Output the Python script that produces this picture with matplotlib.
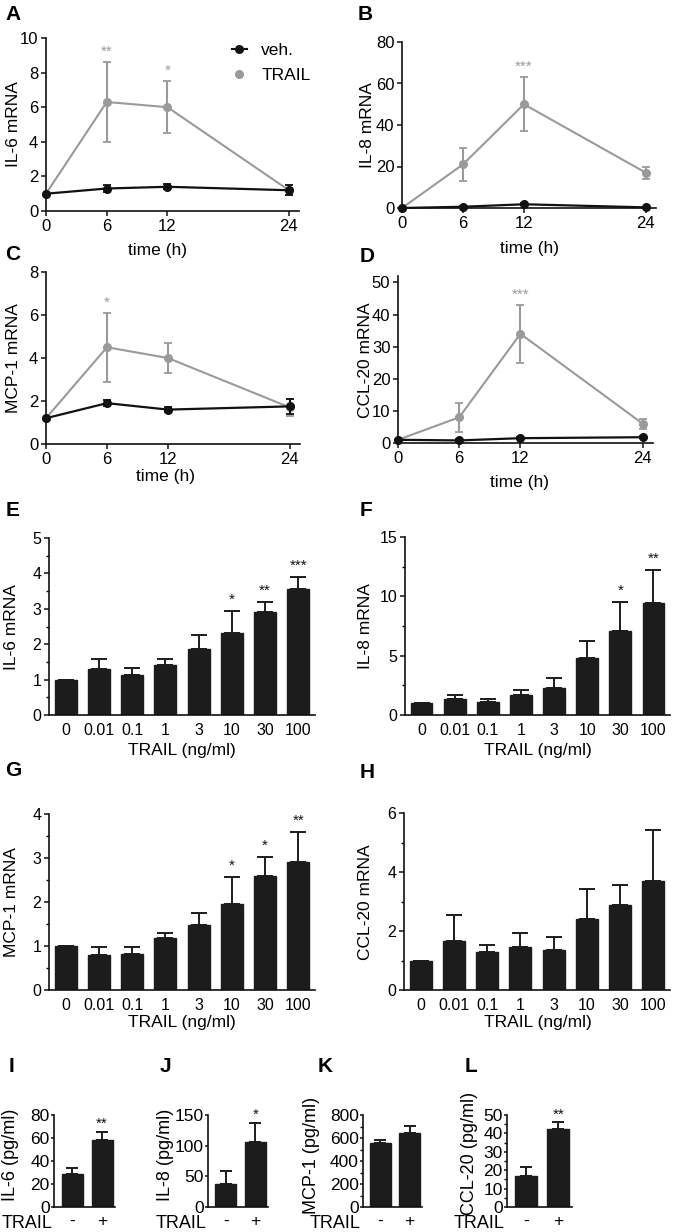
import matplotlib
matplotlib.use("Agg")
import matplotlib.pyplot as plt
import numpy as np
from matplotlib.ticker import MultipleLocator
from matplotlib.lines import Line2D

plt.rcParams['font.family'] = ['Liberation Sans', 'DejaVu Sans']

# ---------------- data ----------------
time_h = [0, 6, 12, 24]
# A IL-6 mRNA
A_veh = [1.0, 1.3, 1.4, 1.2]; A_veh_err = [0.0, 0.2, 0.15, 0.3]
A_trail = [1.0, 6.3, 6.0, 1.2]; A_trail_err = [0.0, 2.3, 1.5, 0.3]
A_stars = ['', '**', '*', '']
# B IL-8 mRNA
B_veh = [0.0, 0.6, 1.8, 0.3]; B_veh_err = [0.0, 0.3, 0.4, 0.3]
B_trail = [0.0, 21.0, 50.0, 17.0]; B_trail_err = [0.0, 8.0, 13.0, 3.0]
B_stars = ['', '', '***', '']
# C MCP-1 mRNA
C_veh = [1.2, 1.9, 1.6, 1.75]; C_veh_err = [0.0, 0.15, 0.12, 0.35]
C_trail = [1.2, 4.5, 4.0, 1.7]; C_trail_err = [0.0, 1.6, 0.7, 0.4]
C_stars = ['', '*', '', '']
# D CCL-20 mRNA
D_veh = [1.0, 0.8, 1.5, 1.8]; D_veh_err = [0.0, 0.3, 0.3, 0.3]
D_trail = [1.0, 8.0, 34.0, 6.0]; D_trail_err = [0.0, 4.5, 9.0, 1.5]
D_stars = ['', '', '***', '']

doses = ['0', '0.01', '0.1', '1', '3', '10', '30', '100']
E_val = [1.0, 1.3, 1.13, 1.41, 1.86, 2.32, 2.91, 3.56]
E_err = [0.0, 0.28, 0.2, 0.17, 0.4, 0.62, 0.28, 0.34]
E_stars = ['', '', '', '', '', '*', '**', '***']
F_val = [1.0, 1.33, 1.1, 1.7, 2.3, 4.8, 7.1, 9.45]
F_err = [0.0, 0.37, 0.25, 0.4, 0.8, 1.45, 2.4, 2.75]
F_stars = ['', '', '', '', '', '', '*', '**']
G_val = [1.0, 0.8, 0.81, 1.18, 1.48, 1.95, 2.6, 2.9]
G_err = [0.0, 0.18, 0.17, 0.12, 0.27, 0.62, 0.42, 0.7]
G_stars = ['', '', '', '', '', '*', '*', '**']
H_val = [1.0, 1.66, 1.29, 1.46, 1.36, 2.4, 2.88, 3.69]
H_err = [0.0, 0.88, 0.23, 0.47, 0.44, 1.02, 0.68, 1.73]
H_stars = ['', '', '', '', '', '', '', '']

trail_cats = ['-', '+']
I_val = [29.0, 58.5]; I_err = [4.5, 7.0]; I_stars = ['', '**']
J_val = [37.0, 106.0]; J_err = [22.0, 31.0]; J_stars = ['', '*']
K_val = [557.0, 640.0]; K_err = [28.0, 62.0]; K_stars = ['', '']
L_val = [17.0, 42.3]; L_err = [4.8, 3.7]; L_stars = ['', '**']

# ---------------- figure ----------------
W, H = 675, 1232
fig = plt.figure(figsize=(W / 100, H / 100), dpi=100)

GRAY = '#9a9a9a'
BLACK = '#111111'
BAR = '#1c1c1c'


def add_ax(l, r, top, bottom):
    return fig.add_axes([l / W, 1 - bottom / H, (r - l) / W, (bottom - top) / H])


def style(ax, fs, length=3.5, pad=2):
    for s in ['top', 'right']:
        ax.spines[s].set_visible(False)
    for s in ['left', 'bottom']:
        ax.spines[s].set_linewidth(1.2)
        ax.spines[s].set_color(BLACK)
    ax.tick_params(axis='both', direction='out', length=length, width=1.1,
                   labelsize=fs, pad=pad, color=BLACK)
    ax.tick_params(axis='y', which='minor', direction='out', length=2.5, width=1.0)


def ftext(x, y, s, **kw):
    fig.text(x / W, 1 - y / H, s, **kw)


def time_panel(ax, veh, veh_err, trail, trail_err, stars, ylim, yticks):
    ax.errorbar(time_h, trail, yerr=trail_err, color=GRAY, ecolor=GRAY, lw=1.5,
                elinewidth=1.5, capsize=3, capthick=1.3, marker='o', ms=5.5,
                mec=GRAY, mfc=GRAY, zorder=3, clip_on=False)
    ax.errorbar(time_h, veh, yerr=veh_err, color=BLACK, ecolor=BLACK, lw=1.6,
                elinewidth=1.5, capsize=3, capthick=1.3, marker='o', ms=5.5,
                mec=BLACK, mfc=BLACK, zorder=4, clip_on=False)
    for x, m, e, s in zip(time_h, trail, trail_err, stars):
        if s:
            ax.annotate(s, (x, m + e), xytext=(0, 6), textcoords='offset pixels',
                        ha='center', va='baseline', fontsize=11, color=GRAY)
    ax.set_xlim(0, 25)
    ax.set_ylim(*ylim)
    ax.set_xticks([0, 6, 12, 24])
    ax.set_yticks(yticks)
    style(ax, 12)


def dose_panel(ax, vals, errs, stars, ylim, yticks, minor):
    x = np.arange(len(doses))
    ax.bar(x, vals, width=0.66, color=BAR, edgecolor=BAR, zorder=2)
    ax.errorbar(x, vals, yerr=[np.zeros(len(vals)), errs], fmt='none', ecolor=BAR,
                elinewidth=1.4, capsize=5.5, capthick=1.4, zorder=3)
    for xi, m, e, s in zip(x, vals, errs, stars):
        if s:
            ax.annotate(s, (xi, m + e), xytext=(0, 7), textcoords='offset pixels',
                        ha='center', va='baseline', fontsize=11, color=BLACK)
    ax.set_xlim(-0.5, 7.5)
    ax.set_ylim(*ylim)
    ax.set_xticks(x)
    ax.set_xticklabels(doses)
    ax.set_yticks(yticks)
    ax.yaxis.set_minor_locator(MultipleLocator(minor))
    style(ax, 11.5)
    ax.tick_params(axis='x', length=0, pad=6)


def elisa_panel(ax, vals, errs, stars, ylim, yticks, minor=None):
    x = np.arange(2)
    ax.bar(x, vals, width=0.7, color=BAR, edgecolor=BAR, zorder=2)
    ax.errorbar(x, vals, yerr=[np.zeros(2), errs], fmt='none', ecolor=BAR,
                elinewidth=1.4, capsize=4.5, capthick=1.4, zorder=3)
    for xi, m, e, s in zip(x, vals, errs, stars):
        if s:
            ax.annotate(s, (xi, m + e), xytext=(0, 4), textcoords='offset pixels',
                        ha='center', va='baseline', fontsize=11, color=BLACK)
    ax.set_xlim(-0.6, 1.43)
    ax.set_ylim(*ylim)
    ax.set_xticks(x)
    ax.set_xticklabels(trail_cats)
    ax.set_yticks(yticks)
    if minor:
        ax.yaxis.set_minor_locator(MultipleLocator(minor))
    style(ax, 12.5, length=2.0, pad=1)
    ax.tick_params(axis='x', length=0, pad=5)
    ax.annotate('TRAIL', (0, 0), xycoords='axes fraction', xytext=(-2, -17),
                textcoords='offset pixels', ha='right', va='center', fontsize=13)


# A
axA = add_ax(46, 299, 38, 211)
time_panel(axA, A_veh, A_veh_err, A_trail, A_trail_err, A_stars, (0, 10), [0, 2, 4, 6, 8, 10])
handles = [Line2D([], [], color=BLACK, marker='o', ms=5.5, lw=1.5),
           Line2D([], [], color=GRAY, marker='o', ms=5.5, lw=0)]
axA.legend(handles, ['veh.', 'TRAIL'], loc='upper left', bbox_to_anchor=((216 - 46) / 253, 1.06),
           frameon=False, fontsize=12.5, handlelength=0.9, handletextpad=0.8, labelspacing=0.55)
# B
axB = add_ax(402, 656, 42, 208)
time_panel(axB, B_veh, B_veh_err, B_trail, B_trail_err, B_stars, (0, 80), [0, 20, 40, 60, 80])
# C
axC = add_ax(46, 300, 272, 444)
time_panel(axC, C_veh, C_veh_err, C_trail, C_trail_err, C_stars, (0, 8), [0, 2, 4, 6, 8])
# D
axD = add_ax(398, 653, 276, 443)
time_panel(axD, D_veh, D_veh_err, D_trail, D_trail_err, D_stars, (0, 52), [0, 10, 20, 30, 40, 50])

# E-H
axE = add_ax(49, 315, 538, 715)
dose_panel(axE, E_val, E_err, E_stars, (0, 5), [0, 1, 2, 3, 4, 5], 0.5)
axF = add_ax(405, 670, 537, 715)
dose_panel(axF, F_val, F_err, F_stars, (0, 15), [0, 5, 10, 15], 2.5)
axG = add_ax(49, 315, 814, 990)
dose_panel(axG, G_val, G_err, G_stars, (0, 4), [0, 1, 2, 3, 4], 0.5)
axH = add_ax(404, 670, 813, 990)
dose_panel(axH, H_val, H_err, H_stars, (0, 6), [0, 2, 4, 6], 1)

# I-L
axI = add_ax(54, 115, 1115, 1207)
elisa_panel(axI, I_val, I_err, I_stars, (0, 80), [0, 20, 40, 60, 80])
axJ = add_ax(208, 268, 1115, 1207)
elisa_panel(axJ, J_val, J_err, J_stars, (0, 150), [0, 50, 100, 150])
axK = add_ax(363, 422, 1115, 1207)
elisa_panel(axK, K_val, K_err, K_stars, (0, 800), [0, 200, 400, 600, 800], 100)
axL = add_ax(507, 572, 1115, 1207)
elisa_panel(axL, L_val, L_err, L_stars, (0, 50), [0, 10, 20, 30, 40, 50], 5)

# y labels
ylab = [(14, 124, 'IL-6 mRNA', 12.5), (368, 125, 'IL-8 mRNA', 12.5),
        (14, 358, 'MCP-1 mRNA', 12.5), (365, 360, 'CCL-20 mRNA', 12.5),
        (12, 627, 'IL-6 mRNA', 12.5), (365, 626, 'IL-8 mRNA', 12.5),
        (12, 902, 'MCP-1 mRNA', 12.5), (365, 902, 'CCL-20 mRNA', 12.5),
        (11, 1155, 'IL-6 (pg/ml)', 13), (165, 1155, 'IL-8 (pg/ml)', 13),
        (312, 1155, 'MCP-1 (pg/ml)', 13), (469, 1153, 'CCL-20 (pg/ml)', 13)]
for x, y, s, fs in ylab:
    ftext(x, y, s, rotation=90, ha='center', va='center', fontsize=fs)

# x labels
xlab = [(158, 251, 'time (h)'), (530, 249, 'time (h)'),
        (166, 477, 'time (h)'), (519, 483, 'time (h)'),
        (182, 750, 'TRAIL (ng/ml)'), (538, 750, 'TRAIL (ng/ml)'),
        (182, 1023, 'TRAIL (ng/ml)'), (538, 1023, 'TRAIL (ng/ml)')]
for x, y, s in xlab:
    ftext(x, y, s, ha='center', va='center', fontsize=12.5)

# panel letters
letters = [(5, 15, 'A'), (358, 15, 'B'), (5, 255, 'C'), (360, 257, 'D'),
           (6, 511, 'E'), (360, 511, 'F'), (5, 770, 'G'), (360, 773, 'H'),
           (9, 1067, 'I'), (160, 1067, 'J'), (318, 1067, 'K'), (465, 1066, 'L')]
for x, y, s in letters:
    ftext(x, y, s, ha='left', va='center', fontsize=15, fontweight='bold')

fig.savefig('out.png', dpi=100)
